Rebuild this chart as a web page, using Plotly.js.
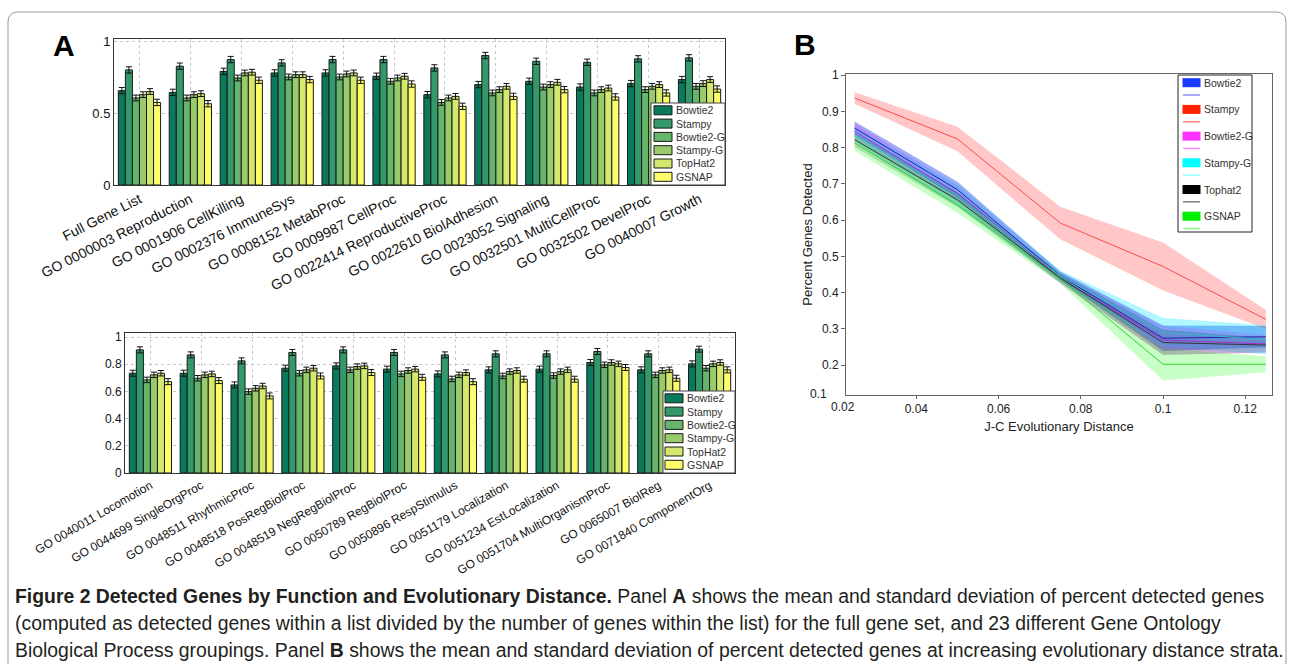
<!DOCTYPE html>
<html>
<head>
<meta charset="utf-8">
<script src="https://cdn.plot.ly/plotly-3.0.1.min.js"></script>
<style>
html,body{margin:0;padding:0;background:#fff;}
#chart{width:1293px;height:672px;}
</style>
</head>
<body>
<div id="chart"></div>
<script>
// ---------------- DATA ----------------
const seriesNamesA = ['Bowtie2','Stampy','Bowtie2-G','Stampy-G','TopHat2','GSNAP'];
const catsTop = ['Full Gene List','GO 0000003 Reproduction','GO 0001906 CellKilling','GO 0002376 ImmuneSys',
  'GO 0008152 MetabProc','GO 0009987 CellProc','GO 0022414 ReproductiveProc','GO 0022610 BiolAdhesion',
  'GO 0023052 Signaling','GO 0032501 MultiCellProc','GO 0032502 DevelProc','GO 0040007 Growth'];
const topBowtie2  = [0.656,0.644,0.790,0.779,0.779,0.756,0.628,0.698,0.721,0.681,0.705,0.733];
const topStampy   = [0.800,0.826,0.872,0.849,0.872,0.872,0.814,0.900,0.860,0.853,0.877,0.884];
const topBowtie2G = [0.605,0.605,0.744,0.751,0.751,0.721,0.574,0.640,0.681,0.640,0.663,0.686];
const topStampyG  = [0.628,0.628,0.779,0.767,0.772,0.744,0.605,0.663,0.698,0.663,0.686,0.705];
const topTopHat2  = [0.650,0.635,0.784,0.767,0.779,0.756,0.616,0.686,0.714,0.674,0.698,0.733];
const topGSNAP    = [0.574,0.565,0.728,0.733,0.728,0.702,0.547,0.616,0.663,0.612,0.640,0.667];

const catsBot = ['GO 0040011 Locomotion','GO 0044699 SingleOrgProc','GO 0048511 RhythmicProc','GO 0048518 PosRegBiolProc',
  'GO 0048519 NegRegBiolProc','GO 0050789 RegBiolProc','GO 0050896 RespStimulus','GO 0051179 Localization',
  'GO 0051234 EstLocalization','GO 0051704 MultiOrganismProc','GO 0065007 BiolReg','GO 0071840 ComponentOrg'];
const botBowtie2  = [0.734,0.734,0.648,0.771,0.788,0.764,0.729,0.759,0.764,0.813,0.759,0.803];
const botStampy   = [0.906,0.869,0.825,0.887,0.906,0.887,0.869,0.877,0.877,0.894,0.877,0.911];
const botBowtie2G = [0.685,0.697,0.599,0.734,0.759,0.729,0.692,0.714,0.717,0.796,0.722,0.771];
const botStampyG  = [0.722,0.722,0.623,0.759,0.783,0.754,0.722,0.746,0.746,0.813,0.754,0.803];
const botTopHat2  = [0.734,0.729,0.640,0.771,0.788,0.764,0.739,0.754,0.759,0.803,0.759,0.813];
const botGSNAP    = [0.672,0.680,0.567,0.714,0.739,0.704,0.672,0.690,0.690,0.776,0.697,0.759];
const errA = [0.022,0.022,0.020,0.020,0.020,0.022];

const seriesNamesB = ['Bowtie2','Stampy','Bowtie2-G','Stampy-G','Tophat2','GSNAP'];
const distB = [0.025,0.05,0.075,0.1,0.125];
const meanBowtie2  = [0.854,0.684,0.446,0.274,0.278];
const sdBowtie2    = [0.018,0.022,0.012,0.035,0.030];
const meanStampy   = [0.937,0.824,0.592,0.472,0.326];
const sdStampy     = [0.016,0.034,0.045,0.066,0.026];
const meanBowtie2G = [0.845,0.674,0.440,0.269,0.258];
const sdBowtie2G   = [0.020,0.022,0.015,0.040,0.025];
const meanStampyG  = [0.836,0.668,0.446,0.290,0.270];
const sdStampyG    = [0.020,0.030,0.015,0.040,0.040];
const meanTophat2  = [0.822,0.656,0.440,0.262,0.255];
const sdTophat2    = [0.020,0.020,0.013,0.035,0.020];
const meanGSNAP    = [0.813,0.642,0.438,0.202,0.202];
const sdGSNAP      = [0.022,0.022,0.013,0.045,0.022];

// ---------------- STYLE ----------------
const W = 1293, H = 672;
const px = x => x / W, py = y => 1 - y / H;
const barColors = ['#0a7a5c','#33996a','#66b56c','#98cc6b','#d3e86c','#fdfd6a'];
const bandFill  = ['rgba(0,40,230,0.38)','rgba(255,0,0,0.22)','rgba(255,0,255,0.22)','rgba(0,230,255,0.3)','rgba(0,0,0,0.16)','rgba(0,255,0,0.22)'];
const lineCol   = ['#2020b0','#ff4a4a','#a030c0','#30b8c8','#333333','#33d033'];
const legSwatchB= ['#1a3cff','#ff2200','#ff33ff','#00ffff','#000000','#00ee00'];
const legLineB  = ['#8f8fff','#ff8080','#ff90ff','#90ffff','#808080','#80ff80'];
const FONT = 'Liberation Sans, Arial, sans-serif';

const topSeries = [topBowtie2, topStampy, topBowtie2G, topStampyG, topTopHat2, topGSNAP];
const botSeries = [botBowtie2, botStampy, botBowtie2G, botStampyG, botTopHat2, botGSNAP];
const meansB = [meanBowtie2, meanStampy, meanBowtie2G, meanStampyG, meanTophat2, meanGSNAP];
const sdsB = [sdBowtie2, sdStampy, sdBowtie2G, sdStampyG, sdTophat2, sdGSNAP];

const traces = [];
function barTraces(cats, series, xa, ya) {
  series.forEach((vals, i) => {
    traces.push({
      type: 'bar', x: cats, y: vals, xaxis: xa, yaxis: ya, name: seriesNamesA[i], showlegend: false,
      marker: {color: barColors[i], line: {color: '#1a1a1a', width: 1}},
      error_y: {type: 'constant', value: errA[i], color: '#111', thickness: 1, width: 3}
    });
  });
}
barTraces(catsTop, topSeries, 'x', 'y');
barTraces(catsBot, botSeries, 'x2', 'y2');

// Panel B bands
meansB.forEach((m, i) => {
  const up = m.map((v, k) => v + sdsB[i][k]);
  const lo = m.map((v, k) => v - sdsB[i][k]);
  traces.push({
    type: 'scatter', mode: 'lines', x: distB.concat(distB.slice().reverse()),
    y: up.concat(lo.slice().reverse()), fill: 'toself', fillcolor: bandFill[i],
    line: {width: 0}, xaxis: 'x3', yaxis: 'y3', showlegend: false, hoverinfo: 'skip', name: seriesNamesB[i]
  });
});
meansB.forEach((m, i) => {
  traces.push({
    type: 'scatter', mode: 'lines', x: distB, y: m, line: {color: lineCol[i], width: 1},
    xaxis: 'x3', yaxis: 'y3', showlegend: false, name: seriesNamesB[i]
  });
});

// ---------------- SHAPES / ANNOTATIONS ----------------
const shapes = [];
const annotations = [];
// outer frame with rounded top corners
{
  const x0 = px(8), x1 = px(1286), y0 = py(12), y1 = py(664), r = 10;
  shapes.push({type: 'path', xref: 'paper', yref: 'paper',
    path: `M ${x0} ${y1} L ${x0} ${py(12 + r)} Q ${x0} ${y0} ${px(8 + r)} ${y0} L ${px(1286 - r)} ${y0} Q ${x1} ${y0} ${x1} ${py(12 + r)} L ${x1} ${y1}`,
    line: {color: '#9a9a9a', width: 1}});
}
// custom legend for bar panels
function barLegend(bx0, by0, bx1, by1, sx0, sx1, tx, row0, pitch) {
  shapes.push({type: 'rect', xref: 'paper', yref: 'paper', x0: px(bx0), x1: px(bx1), y0: py(by1), y1: py(by0),
    fillcolor: '#fff', line: {color: '#444', width: 1}, layer: 'above'});
  seriesNamesA.forEach((n, i) => {
    const cy = row0 + i * pitch;
    shapes.push({type: 'rect', xref: 'paper', yref: 'paper', x0: px(sx0), x1: px(sx1), y0: py(cy + 4.5), y1: py(cy - 4.5),
      fillcolor: barColors[i], line: {color: '#1a1a1a', width: 1}, layer: 'above'});
    annotations.push({xref: 'paper', yref: 'paper', x: px(tx), y: py(cy), text: n, showarrow: false,
      xanchor: 'left', yanchor: 'middle', font: {family: FONT, size: 10.5, color: '#333'}});
  });
}
barLegend(651, 103, 725, 185, 654, 672, 674, 110.3, 13.3);
barLegend(663, 391, 735, 473, 665, 683, 685, 398.3, 13.3);
// legend for panel B
shapes.push({type: 'rect', xref: 'paper', yref: 'paper', x0: px(1178), x1: px(1252), y0: py(232), y1: py(75),
  fillcolor: '#fff', line: {color: '#222', width: 1}, layer: 'above'});
seriesNamesB.forEach((n, i) => {
  const cy = 82.7 + i * 26.7;
  shapes.push({type: 'rect', xref: 'paper', yref: 'paper', x0: px(1182.5), x1: px(1200.5), y0: py(cy + 4.5), y1: py(cy - 4.5),
    fillcolor: legSwatchB[i], line: {width: 0}, layer: 'above'});
  shapes.push({type: 'line', xref: 'paper', yref: 'paper', x0: px(1183), x1: px(1200), y0: py(cy + 12.3), y1: py(cy + 12.3),
    line: {color: legLineB[i], width: 1.5}, layer: 'above'});
  annotations.push({xref: 'paper', yref: 'paper', x: px(1201.5), y: py(cy), text: n, showarrow: false,
    xanchor: 'left', yanchor: 'middle', font: {family: FONT, size: 10.5, color: '#333'}});
});
// panel letters
annotations.push({xref: 'paper', yref: 'paper', x: px(64), y: py(46), text: '<b>A</b>', showarrow: false,
  xanchor: 'center', yanchor: 'middle', font: {family: FONT, size: 30, color: '#000'}});
annotations.push({xref: 'paper', yref: 'paper', x: px(805), y: py(45), text: '<b>B</b>', showarrow: false,
  xanchor: 'center', yanchor: 'middle', font: {family: FONT, size: 30, color: '#000'}});
// corner labels of panel B axes
annotations.push({xref: 'paper', yref: 'paper', x: px(829), y: py(394), text: '0.1', showarrow: false,
  xanchor: 'right', yanchor: 'middle', font: {family: FONT, size: 12, color: '#222'}});
annotations.push({xref: 'paper', yref: 'paper', x: px(843), y: py(407), text: '0.02', showarrow: false,
  xanchor: 'center', yanchor: 'middle', font: {family: FONT, size: 12, color: '#222'}});
// caption
const capFont = {family: 'Liberation Sans, Arial, sans-serif', size: 19.4, color: '#231f20'};
const capLines = [
  '<b>Figure 2 Detected Genes by Function and Evolutionary Distance.</b> Panel <b>A</b> shows the mean and standard deviation of percent detected genes',
  '(computed as detected genes within a list divided by the number of genes within the list) for the full gene set, and 23 different Gene Ontology',
  'Biological Process groupings. Panel <b>B</b> shows the mean and standard deviation of percent detected genes at increasing evolutionary distance strata.'
];
capLines.forEach((t, i) => {
  annotations.push({xref: 'paper', yref: 'paper', x: px(13), y: py(596 + i * 27), text: t, showarrow: false,
    xanchor: 'left', yanchor: 'middle', font: capFont});
});

// ---------------- LAYOUT ----------------
const catAxis = (dom, anchor, size, angle) => ({
  domain: dom, anchor: anchor, type: 'category', showline: true, mirror: true, linecolor: '#333', linewidth: 1,
  showgrid: true, gridcolor: '#c8c8c8', griddash: 'dot', ticks: '', tickangle: angle,
  tickfont: {family: FONT, size: size, color: '#111'}, fixedrange: true
});
const layout = {
  width: W, height: H, autosize: false, margin: {l: 0, r: 0, t: 0, b: 0},
  paper_bgcolor: '#fff', plot_bgcolor: '#fff', showlegend: false,
  barmode: 'group', bargap: 0.17, bargroupgap: 0,
  font: {family: FONT},
  xaxis: catAxis([px(114), px(725)], 'y', 14, -27),
  yaxis: {domain: [py(185), py(39)], anchor: 'x', range: [0, 1.015], tickvals: [0, 0.5, 1], ticktext: ['0', '0.5', '1'],
    showline: true, mirror: true, linecolor: '#333', showgrid: true, gridcolor: '#c8c8c8', griddash: 'dot', zeroline: false,
    ticks: '', tickfont: {family: FONT, size: 13, color: '#111'}},
  xaxis2: catAxis([px(125), px(735)], 'y2', 12, -30),
  yaxis2: {domain: [py(473), py(333)], anchor: 'x2', range: [0, 1.03], tickvals: [0, 0.2, 0.4, 0.6, 0.8, 1],
    ticktext: ['0', '0.2', '0.4', '0.6', '0.8', '1'],
    showline: true, mirror: true, linecolor: '#333', showgrid: true, gridcolor: '#c8c8c8', griddash: 'dot', zeroline: false,
    ticks: '', tickfont: {family: FONT, size: 12, color: '#111'}},
  xaxis3: {domain: [px(846), px(1272)], anchor: 'y3', range: [0.0229, 0.1265],
    tickvals: [0.04, 0.06, 0.08, 0.1, 0.12], ticktext: ['0.04', '0.06', '0.08', '0.1', '0.12'],
    showline: true, mirror: true, linecolor: '#666', showgrid: false, zeroline: false,
    ticks: 'outside', ticklen: 3, tickcolor: '#666', tickfont: {family: FONT, size: 12, color: '#222'},
    title: {text: 'J-C Evolutionary Distance', font: {family: FONT, size: 13, color: '#222'}, standoff: 6}},
  yaxis3: {domain: [py(395), py(74)], anchor: 'x3', range: [0.1172, 1.0033],
    tickvals: [0.2, 0.3, 0.4, 0.5, 0.6, 0.7, 0.8, 0.9, 1], ticktext: ['0.2', '0.3', '0.4', '0.5', '0.6', '0.7', '0.8', '0.9', '1'],
    showline: true, mirror: true, linecolor: '#666', showgrid: false, zeroline: false,
    ticks: 'outside', ticklen: 4, tickcolor: '#666', tickfont: {family: FONT, size: 12, color: '#222'},
    title: {text: 'Percent Genes Detected', font: {family: FONT, size: 13, color: '#222'}, standoff: 6}},
  shapes: shapes,
  annotations: annotations
};

Plotly.newPlot('chart', traces, layout, {displayModeBar: false, staticPlot: true});
</script>
</body>
</html>
